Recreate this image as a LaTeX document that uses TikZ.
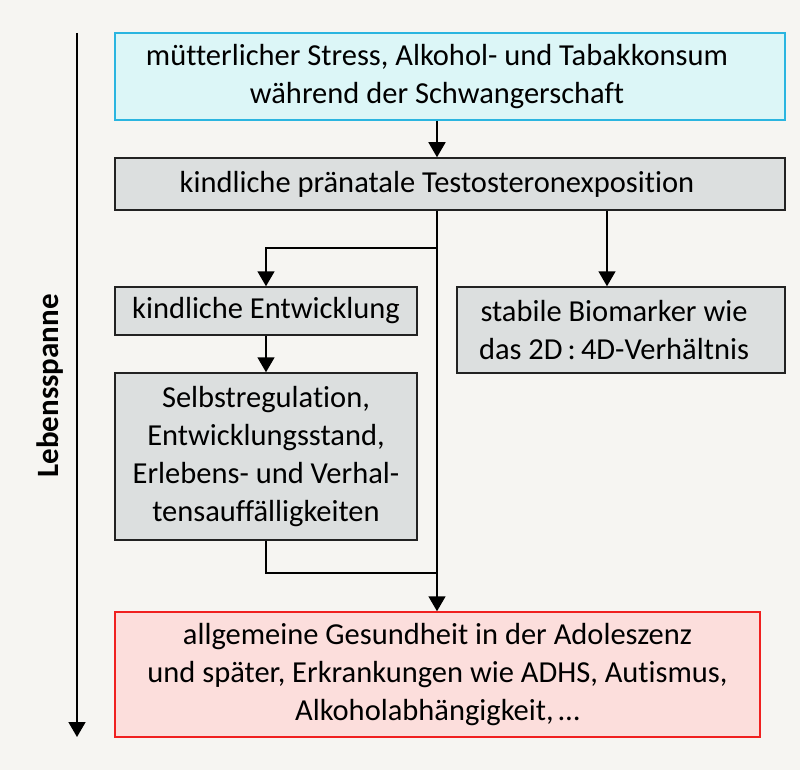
\documentclass[tikz,border=0pt]{standalone}
\usepackage{fontspec}
\setmainfont{Carlito}[Ligatures=NoCommon]
\usetikzlibrary{arrows.meta}
\definecolor{bg}{HTML}{F6F5F2}
\definecolor{cyanfill}{HTML}{DCF6F7}
\definecolor{cyanline}{HTML}{2AB5E0}
\definecolor{grayfill}{HTML}{DCDFDF}
\definecolor{grayline}{HTML}{222222}
\definecolor{redfill}{HTML}{FCDEDC}
\definecolor{redline}{HTML}{F02020}
\newcommand{\lftbox}[3]{\parbox{#1}{\centering #3}\hspace*{#2}}
\tikzset{
  box/.style={draw=grayline, fill=grayfill, line width=1.5pt, inner sep=0pt, align=center,
    font=\fontsize{30.5}{38}\selectfont},
  arr/.style={line width=1.6pt, -{Triangle[width=17pt,length=15pt]}},
  ln/.style={line width=1.6pt}
}
\begin{document}
\begin{tikzpicture}[x=1pt,y=-1pt]
\fill[bg] (0,0) rectangle (800,770);
\useasboundingbox (0,0) rectangle (800,770);
\node[box, draw=cyanline, fill=cyanfill, minimum width=670pt, minimum height=87pt] (top) at (450,76.5)
  {\lftbox{644pt}{26pt}{mütterlicher Stress, Alkohol- und Tabakkonsum\\während der Schwangerschaft}};
\node[box, minimum width=670pt, minimum height=52pt] (exp) at (450,184)
  {\lftbox{644pt}{26pt}{kindliche pränatale Testosteronexposition}};
\node[box, minimum width=302pt, minimum height=48pt] (ent) at (266,311)
  {kindliche Entwicklung};
\node[box, minimum width=302pt, minimum height=167pt] (sel) at (266,456.5)
  {Selbstregulation,\\Entwicklungsstand,\\Erlebens- und Verhal-\\tensauffälligkeiten};
\node[box, minimum width=328pt, minimum height=86pt] (bio) at (621,330)
  {\lftbox{314pt}{14pt}{stabile Biomarker wie\\das 2D\,:\,4D-Verhältnis}};
\node[box, draw=redline, fill=redfill, minimum width=645pt, minimum height=125pt] (fin) at (437.5,674.5)
  {allgemeine Gesundheit in der Adoleszenz\\und später, Erkrankungen wie ADHS, Autismus,\\Alkoholabhängigkeit,\,\dots};
\coordinate (jx) at (437,248);
\coordinate (jy) at (437,573);
\coordinate (bx) at (607,248);
\coordinate (ls) at (77,33);
\coordinate (le) at (77,737);
\draw[arr] (top.south -| jx) -- (exp.north -| jx);
\draw[arr] (exp.south -| jx) -- (fin.north -| jx);
\draw[arr] (jx) -| (ent.north);
\draw[arr] (exp.south -| bx) -- (bio.north -| bx);
\draw[arr] (ent.south) -- (sel.north);
\draw[ln] (sel.south) |- (jy);
\draw[arr] (ls) -- (le);
\node[rotate=90, font=\fontsize{31}{36}\selectfont\bfseries] (lab) at (50,386) {Lebensspanne};
\end{tikzpicture}
\end{document}
